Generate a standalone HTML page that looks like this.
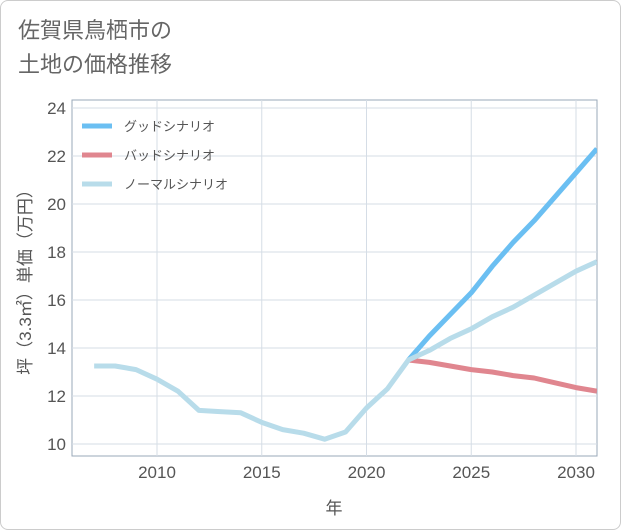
<!DOCTYPE html>
<html><head><meta charset="utf-8"><style>
body{margin:0;background:#fff;font-family:"Liberation Sans","Noto Sans CJK JP",sans-serif;}
.card{position:absolute;left:0;top:0;width:619px;height:528px;border:1px solid #ccc;border-radius:8px;background:#fff;}
.title{position:absolute;left:18px;top:14px;font-size:22px;line-height:34px;color:#666;}
</style></head><body>
<div class="card"></div>
<div class="title">佐賀県鳥栖市の<br>土地の価格推移</div>
<svg id="c" width="621" height="530" style="position:absolute;left:0;top:0"></svg>
<script>
const years=[2007,2008,2009,2010,2011,2012,2013,2014,2015,2016,2017,2018,2019,2020,2021,2022,2023,2024,2025,2026,2027,2028,2029,2030,2031];
const normal=[13.25,13.25,13.1,12.7,12.2,11.4,11.35,11.3,10.9,10.6,10.45,10.2,10.5,11.5,12.3,13.5,13.9,14.4,14.8,15.3,15.7,16.2,16.7,17.2,17.6];
const futureYears=[2022,2023,2024,2025,2026,2027,2028,2029,2030,2031];
const good=[13.5,14.5,15.4,16.3,17.4,18.4,19.3,20.3,21.3,22.3];
const bad=[13.5,13.4,13.25,13.1,13.0,12.85,12.75,12.55,12.35,12.2];
const yTicks=[10,12,14,16,18,20,22,24];
const xTicks=[2010,2015,2020,2025,2030];
const X=y=>157+(y-2010)*20.95, Y=v=>444-(v-10)*24;
const L=72,R=597,T=100,B=456;
const s=document.getElementById('c');const ns='http://www.w3.org/2000/svg';
function el(t,a,p){const e=document.createElementNS(ns,t);for(const k in a)e.setAttribute(k,a[k]);(p||s).appendChild(e);return e;}
let bg=el('rect',{x:L,y:T,width:R-L,height:B-T,fill:'#fff',stroke:'#9aa8b8'});


yTicks.forEach(v=>{let g=el('line',{x1:L,x2:R,y1:Y(v),y2:Y(v),stroke:'#d5dde6'});


let t=el('text',{x:L-6,y:Y(v)+6,'text-anchor':'end','font-size':17,fill:'#555'});t.textContent=v;

});
xTicks.forEach(v=>{let g=el('line',{x1:X(v),x2:X(v),y1:T,y2:B,stroke:'#d5dde6'});


let t=el('text',{x:X(v),y:B+22,'text-anchor':'middle','font-size':17,fill:'#555'});t.textContent=v;

});
const clip=el('clipPath',{id:'cp'});el('rect',{x:L,y:T,width:R-L,height:B-T},clip);
function line(xs,vs,col,name){let p=el('polyline',{points:xs.map((x,i)=>X(x)+','+Y(vs[i])).join(' '),fill:'none',stroke:col,'stroke-width':5,'stroke-linejoin':'round','clip-path':'url(#cp)'});

}
line(futureYears,good,'#6bbff2','good-scenario-line');
line(futureYears,bad,'#e0868f','bad-scenario-line');
line(years,normal,'#b8dcea','normal-scenario-line');
const leg=[['グッドシナリオ','#6bbff2'],['バッドシナリオ','#e0868f'],['ノーマルシナリオ','#b8dcea']];
leg.forEach((d,i)=>{let y=126+i*29;let g=el('g',{});


el('line',{x1:82,x2:112,y1:y,y2:y,stroke:d[1],'stroke-width':5},g);
let t=el('text',{x:124,y:y+5,'font-size':13,fill:'#555'},g);t.textContent=d[0];});
let xt=el('text',{x:334,y:514,'text-anchor':'middle','font-size':17,fill:'#555'});xt.textContent='年';


let yt=el('text',{x:0,y:0,'text-anchor':'middle','font-size':17,fill:'#555',transform:'translate(31,278) rotate(-90)'});yt.textContent='坪（3.3㎡）単価（万円）';


</script>
</body></html>
